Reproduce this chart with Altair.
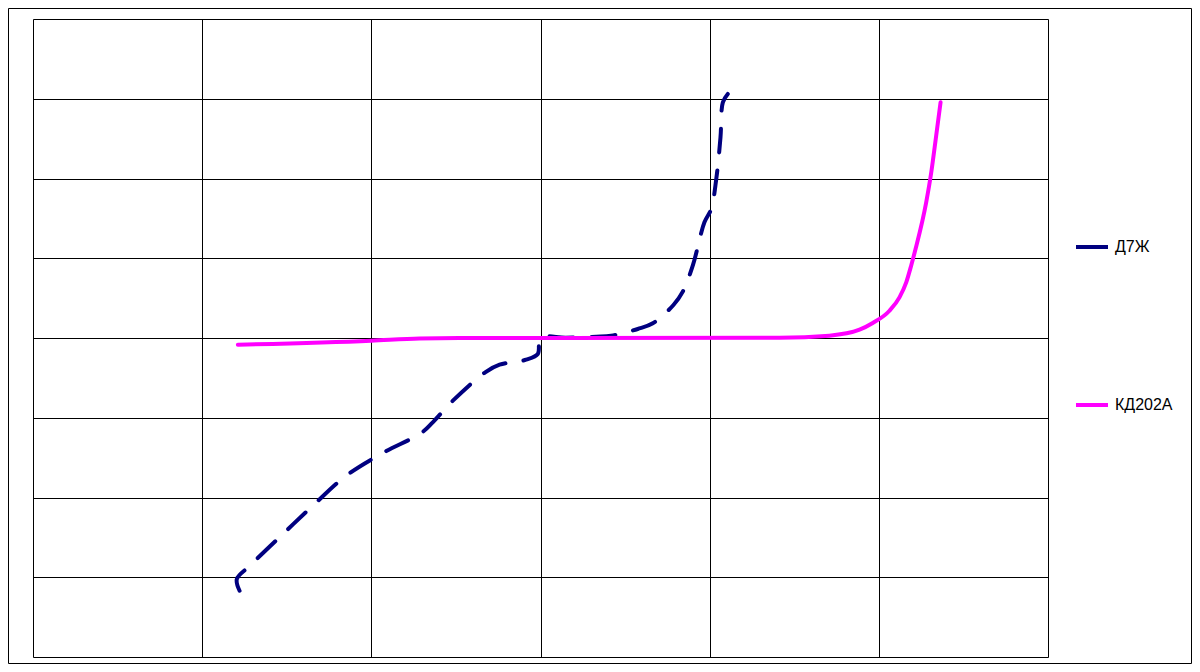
import altair as alt
import pandas as pd

# Д7Ж curve (x: voltage units, y: current units)
d7_x = [-1.779, -1.795, -1.720, -1.533, -1.346, -1.149, -0.932, -0.705, -0.637, -0.518,
        -0.327, -0.242, -0.085, -0.016, 0.0, 0.15, 0.329, 0.418, 0.575, 0.664, 0.786, 0.841,
        0.900, 0.969, 1.009, 1.039, 1.064, 1.078, 1.107]
d7_y = [-3.169, -3.022, -2.859, -2.479, -2.103, -1.727, -1.442, -1.191, -1.057, -0.786,
        -0.430, -0.335, -0.272, -0.201, 0.0, 0.004, 0.016, 0.029, 0.113, 0.184, 0.414, 0.581,
        0.907, 1.451, 1.618, 1.994, 2.517, 2.955, 3.060]

# КД202А curve
kd_x = [-1.789, -1.001, -0.715, -0.48, 0.112, 1.413, 1.708, 1.886, 1.964, 2.063, 2.122,
        2.162, 2.191, 2.217, 2.280, 2.310, 2.339, 2.365]
kd_y = [-0.084, -0.034, -0.005, 0.0, 0.0, 0.002, 0.029, 0.104, 0.188, 0.342, 0.510,
        0.698, 0.907, 1.116, 1.702, 2.078, 2.537, 2.955]

series_names = ["Д7Ж", "КД202А"]
series_colors = ["#000080", "#FF00FF"]

d7 = pd.DataFrame({"x": d7_x, "y": d7_y, "s": series_names[0], "i": range(len(d7_x))})
kd = pd.DataFrame({"x": kd_x, "y": kd_y, "s": series_names[1], "i": range(len(kd_x))})

W, H = 1015, 638

xs = alt.Scale(domain=[-3, 3], nice=False, zero=False)
ys = alt.Scale(domain=[-4, 4], nice=False, zero=False)
x_axis = alt.Axis(values=[-3, -2, -1, 0, 1, 2, 3], labels=False, ticks=False, domain=False,
                  grid=True, gridColor="black", gridWidth=1, gridOpacity=1, title=None)
y_axis = alt.Axis(values=[-4, -3, -2, -1, 0, 1, 2, 3, 4], labels=False, ticks=False, domain=False,
                  grid=True, gridColor="black", gridWidth=1, gridOpacity=1, title=None)

color = alt.Color("s:N", scale=alt.Scale(domain=series_names, range=series_colors),
                  legend=alt.Legend(title=None, orient="none", legendX=1041, legendY=210,
                                    symbolType="stroke", symbolSize=1024, symbolStrokeWidth=4,
                                    symbolDash=[1, 0], rowPadding=132, labelOffset=5,
                                    labelFont="Liberation Sans", labelFontSize=16,
                                    labelColor="black"))

base_d7 = alt.Chart(d7).mark_line(strokeWidth=4, strokeDash=[24, 18], strokeCap="round",
                                  interpolate="catmull-rom").encode(
    x=alt.X("x:Q", scale=xs, axis=x_axis),
    y=alt.Y("y:Q", scale=ys, axis=y_axis),
    order="i:Q",
    color=color,
)
base_kd = alt.Chart(kd).mark_line(strokeWidth=4, strokeCap="round",
                                  interpolate="monotone").encode(
    x=alt.X("x:Q", scale=xs, axis=x_axis),
    y=alt.Y("y:Q", scale=ys, axis=y_axis),
    order="i:Q",
    color=color,
)

frame = alt.Chart(pd.DataFrame({"a": [0]})).mark_rect(fill="transparent", stroke="black",
                                                      strokeWidth=1).encode(
    x=alt.value(-24.5), x2=alt.value(W + 143.5), y=alt.value(-10.5), y2=alt.value(H + 6.5)
)

chart = alt.layer(base_d7, base_kd, frame).properties(
    width=W, height=H,
    autosize=alt.AutoSizeParams(type="none"),
    padding={"left": 25, "top": 11, "right": 144, "bottom": 7},
).configure_view(stroke="black", strokeWidth=1).configure(background="white")

chart.save("out.html", embed_options={"renderer": "svg", "actions": False})
